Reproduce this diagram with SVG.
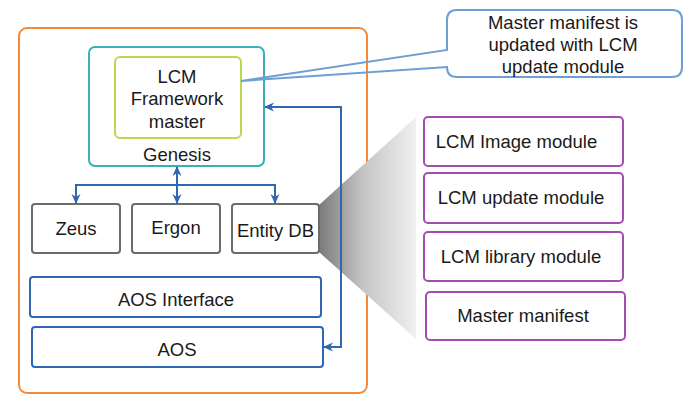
<svg xmlns="http://www.w3.org/2000/svg" width="695" height="407" viewBox="0 0 695 407">
<defs>
<linearGradient id="wedge" x1="319" y1="0" x2="416" y2="0" gradientUnits="userSpaceOnUse">
<stop offset="0" stop-color="#7a7a7a"/>
<stop offset="0.45" stop-color="#c4c4c4"/>
<stop offset="1" stop-color="#f0f0f0"/>
</linearGradient>
<marker id="ah" viewBox="0 0 10 10" refX="9" refY="5" markerWidth="10" markerHeight="10" markerUnits="userSpaceOnUse" orient="auto-start-reverse">
<path d="M0,0.5 L10,5 L0,9.5 L3,5 Z" fill="#2f67b1"/>
</marker>
</defs>
<style>
text{font-family:"Liberation Sans",Arial,sans-serif;font-size:18.5px;fill:#1a1a1a;text-anchor:middle}
.gray{fill:#fff;stroke:#6b6b6b;stroke-width:2}
.blue{fill:#fff;stroke:#2f67b1;stroke-width:2}
.purple{fill:#fff;stroke:#a54cb3;stroke-width:2}
.conn{fill:none;stroke:#2f67b1;stroke-width:2}
</style>
<rect width="695" height="407" fill="#fff"/>
<g id="container">
<rect x="19" y="28" width="348" height="365" rx="8" fill="none" stroke="#f5893a" stroke-width="2"/>
</g>
<g id="wedge-shape">
<polygon points="319,205 416,117 416,339 319,252" fill="url(#wedge)"/>
</g>
<g id="genesis">
<rect x="89" y="47" width="175" height="119" rx="6" fill="none" stroke="#3aafb5" stroke-width="2"/>
<text x="177" y="161">Genesis</text>
</g>
<g id="lcm-master">
<rect x="115" y="57" width="126" height="81" rx="5" fill="none" stroke="#b9d94f" stroke-width="2"/>
<text x="177" y="83">LCM</text>
<text x="177" y="105">Framework</text>
<text x="177" y="128">master</text>
</g>
<g id="callout">
<path d="M457,10 H672 Q682,10 682,20 V67 Q682,77 672,77 H457 Q447,77 447,67 L447,67 L241,81 L447,50 V20 Q447,10 457,10 Z" fill="none" stroke="#6d9fd4" stroke-width="2"/>
<text x="563" y="29">Master manifest is</text>
<text x="563" y="51">updated with LCM</text>
<text x="563" y="73">update module</text>
</g>
<g id="zeus">
<rect class="gray" x="32" y="204" width="88" height="49" rx="3"/>
<text x="76" y="235">Zeus</text>
</g>
<g id="ergon">
<rect class="gray" x="132" y="204" width="88" height="49" rx="3"/>
<text x="176" y="234">Ergon</text>
</g>
<g id="entitydb">
<rect class="gray" x="232" y="204" width="87" height="49" rx="3"/>
<text x="275.5" y="237">Entity DB</text>
</g>
<g id="aos-interface">
<rect class="blue" x="30" y="277" width="291" height="40" rx="3"/>
<text x="176" y="306">AOS Interface</text>
</g>
<g id="aos">
<rect class="blue" x="32" y="327" width="291" height="40" rx="3"/>
<text x="177" y="356">AOS</text>
</g>
<g id="lcm-image">
<rect class="purple" x="424" y="117" width="199" height="49" rx="4"/>
<text x="516.5" y="148">LCM Image module</text>
</g>
<g id="lcm-update">
<rect class="purple" x="424" y="173" width="199" height="50" rx="4"/>
<text x="521" y="204">LCM update module</text>
</g>
<g id="lcm-library">
<rect class="purple" x="424" y="232" width="199" height="49" rx="4"/>
<text x="521" y="263">LCM library module</text>
</g>
<g id="master-manifest">
<rect class="purple" x="426" y="292" width="199" height="48" rx="4"/>
<text x="523" y="322">Master manifest</text>
</g>
<g id="connectors">
<path class="conn" d="M177,167 V203" marker-start="url(#ah)" marker-end="url(#ah)"/>
<path class="conn" d="M76,203 V185 H275 V203" marker-start="url(#ah)" marker-end="url(#ah)"/>
<path class="conn" d="M265,107 H341 V347 H324" marker-start="url(#ah)" marker-end="url(#ah)"/>
</g>
</svg>
